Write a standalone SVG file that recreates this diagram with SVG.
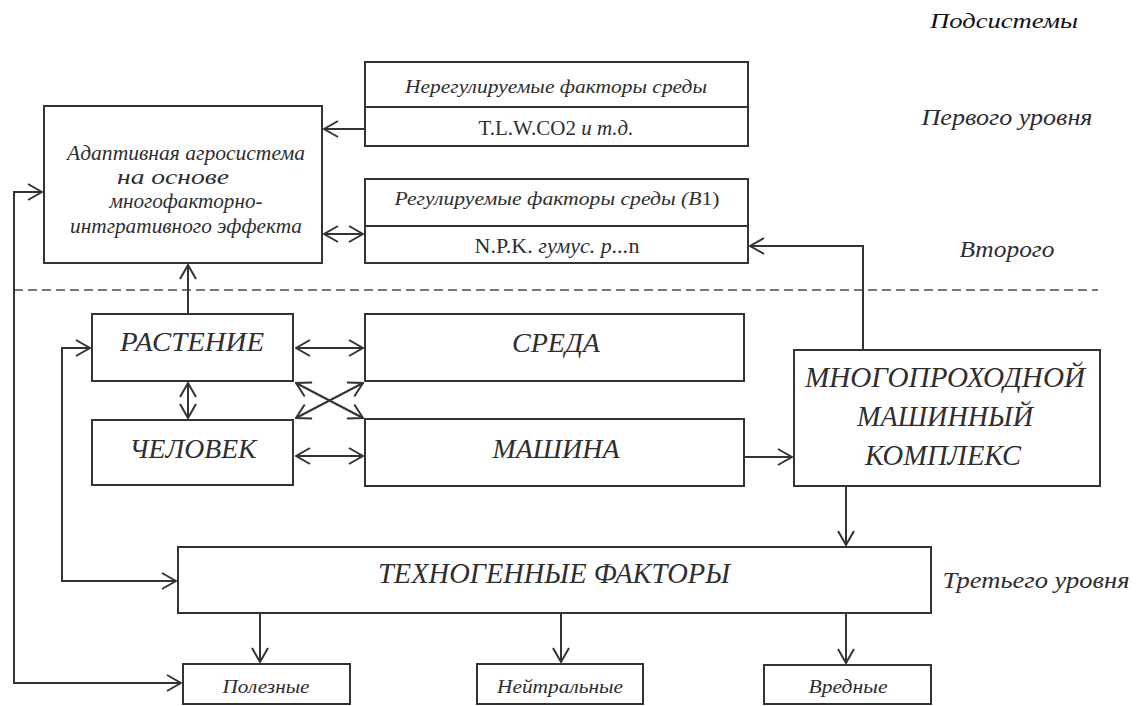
<svg xmlns="http://www.w3.org/2000/svg" width="1137" height="706" viewBox="0 0 1137 706">
<defs>
<style>
.box{fill:#fff;stroke:#333;stroke-width:2}
.ln{fill:none;stroke:#333;stroke-width:2}
.dash{fill:none;stroke:#777;stroke-width:2;stroke-dasharray:9 5}
text{font-family:"Liberation Serif","Times New Roman",serif;fill:#2e2e2e;text-anchor:middle}
.i{font-style:italic}
.up{font-style:normal}
</style>
<marker id="arr" viewBox="0 0 16 18" refX="15" refY="9" markerWidth="16" markerHeight="18" markerUnits="userSpaceOnUse" orient="auto-start-reverse">
<path d="M1,1 L15,9 L1,17" fill="none" stroke="#333" stroke-width="2"/>
</marker>
</defs>
<rect width="1137" height="706" fill="#fff"/>

<g id="labels">
<text class="i" x="1004" y="28" font-size="22" textLength="148" lengthAdjust="spacingAndGlyphs" style="fill:#111">Подсистемы</text>
<text class="i" x="1007" y="125" font-size="23" textLength="171" lengthAdjust="spacingAndGlyphs">Первого уровня</text>
<text class="i" x="1007" y="257" font-size="23" textLength="95" lengthAdjust="spacingAndGlyphs">Второго</text>
<text class="i" x="1036" y="588" font-size="23" textLength="187" lengthAdjust="spacingAndGlyphs">Третьего уровня</text>
</g>

<g id="divider">
<path class="dash" d="M14,290 H1098"/>
</g>

<g id="adaptive">
<rect class="box" x="44" y="106" width="278" height="157"/>
<text class="i" x="186" y="160" font-size="20" textLength="238" lengthAdjust="spacingAndGlyphs">Адаптивная агросистема</text>
<text class="i" x="173" y="184" font-size="20" textLength="112" lengthAdjust="spacingAndGlyphs">на основе</text>
<text class="i" x="186" y="208" font-size="20" textLength="153" lengthAdjust="spacingAndGlyphs">многофакторно-</text>
<text class="i" x="186" y="233" font-size="20" textLength="232" lengthAdjust="spacingAndGlyphs">интгративного эффекта</text>
</g>

<g id="unregulated">
<rect class="box" x="365" y="62" width="383" height="84"/>
<path class="ln" d="M365,107 H748"/>
<text class="i" x="556" y="93" font-size="19" textLength="302" lengthAdjust="spacingAndGlyphs">Нерегулируемые факторы среды</text>
<text x="556" y="135" font-size="20" textLength="155" lengthAdjust="spacingAndGlyphs">T.L.W.CO2 <tspan class="i">и т.д.</tspan></text>
</g>

<g id="regulated">
<rect class="box" x="365" y="179" width="383" height="84"/>
<path class="ln" d="M365,226 H748"/>
<text class="i" x="557" y="205" font-size="19" textLength="325" lengthAdjust="spacingAndGlyphs">Регулируемые факторы среды (В<tspan class="up">1)</tspan></text>
<text x="557" y="253" font-size="20" textLength="165" lengthAdjust="spacingAndGlyphs">N.P.K. <tspan class="i">гумус. р...</tspan>n</text>
</g>

<g id="plant">
<rect class="box" x="92" y="314" width="201" height="67"/>
<text class="i" x="192" y="351" font-size="27" textLength="144" lengthAdjust="spacingAndGlyphs">РАСТЕНИЕ</text>
</g>

<g id="human">
<rect class="box" x="92" y="420" width="201" height="65"/>
<text class="i" x="193" y="458" font-size="27" textLength="127" lengthAdjust="spacingAndGlyphs">ЧЕЛОВЕК</text>
</g>

<g id="environment">
<rect class="box" x="365" y="314" width="379" height="67"/>
<text class="i" x="556" y="352" font-size="27" textLength="88" lengthAdjust="spacingAndGlyphs">СРЕДА</text>
</g>

<g id="machine">
<rect class="box" x="365" y="419" width="379" height="67"/>
<text class="i" x="556" y="458" font-size="27" textLength="127" lengthAdjust="spacingAndGlyphs">МАШИНА</text>
</g>

<g id="complex">
<rect class="box" x="794" y="350" width="306" height="136"/>
<text class="i" x="945" y="387" font-size="29" textLength="280" lengthAdjust="spacingAndGlyphs">МНОГОПРОХОДНОЙ</text>
<text class="i" x="945" y="426" font-size="29" textLength="176" lengthAdjust="spacingAndGlyphs">МАШИННЫЙ</text>
<text class="i" x="943" y="465" font-size="29" textLength="156" lengthAdjust="spacingAndGlyphs">КОМПЛЕКС</text>
</g>

<g id="technogenic">
<rect class="box" x="178" y="547" width="753" height="66"/>
<text class="i" x="554" y="583" font-size="29" textLength="352" lengthAdjust="spacingAndGlyphs">ТЕХНОГЕННЫЕ ФАКТОРЫ</text>
</g>

<g id="useful">
<rect class="box" x="183" y="664" width="167" height="40"/>
<text class="i" x="266" y="693" font-size="18" textLength="87" lengthAdjust="spacingAndGlyphs">Полезные</text>
</g>

<g id="neutral">
<rect class="box" x="477" y="664" width="166" height="40"/>
<text class="i" x="560" y="693" font-size="18" textLength="126" lengthAdjust="spacingAndGlyphs">Нейтральные</text>
</g>

<g id="harmful">
<rect class="box" x="764" y="665" width="167" height="39"/>
<text class="i" x="848" y="693" font-size="18" textLength="79" lengthAdjust="spacingAndGlyphs">Вредные</text>
</g>

<g id="connectors">
<path class="ln" d="M181,683 H14 V192 H42" marker-start="url(#arr)" marker-end="url(#arr)"/>
<path class="ln" d="M90,348 H62 V581 H176" marker-start="url(#arr)" marker-end="url(#arr)"/>
<path class="ln" d="M365,129 H324" marker-end="url(#arr)"/>
<path class="ln" d="M324,234 H363" marker-start="url(#arr)" marker-end="url(#arr)"/>
<path class="ln" d="M188,314 V265" marker-end="url(#arr)"/>
<path class="ln" d="M188,383 V418" marker-start="url(#arr)" marker-end="url(#arr)"/>
<path class="ln" d="M296,348 H363" marker-start="url(#arr)" marker-end="url(#arr)"/>
<path class="ln" d="M296,456 H363" marker-start="url(#arr)" marker-end="url(#arr)"/>
<path class="ln" d="M296,383 L363,418" marker-start="url(#arr)" marker-end="url(#arr)"/>
<path class="ln" d="M296,418 L363,383" marker-start="url(#arr)" marker-end="url(#arr)"/>
<path class="ln" d="M744,457 H792" marker-end="url(#arr)"/>
<path class="ln" d="M863,350 V246 H750" marker-end="url(#arr)"/>
<path class="ln" d="M846,486 V545" marker-end="url(#arr)"/>
<path class="ln" d="M260,613 V662" marker-end="url(#arr)"/>
<path class="ln" d="M561,613 V662" marker-end="url(#arr)"/>
<path class="ln" d="M846,613 V663" marker-end="url(#arr)"/>
</g>
</svg>
